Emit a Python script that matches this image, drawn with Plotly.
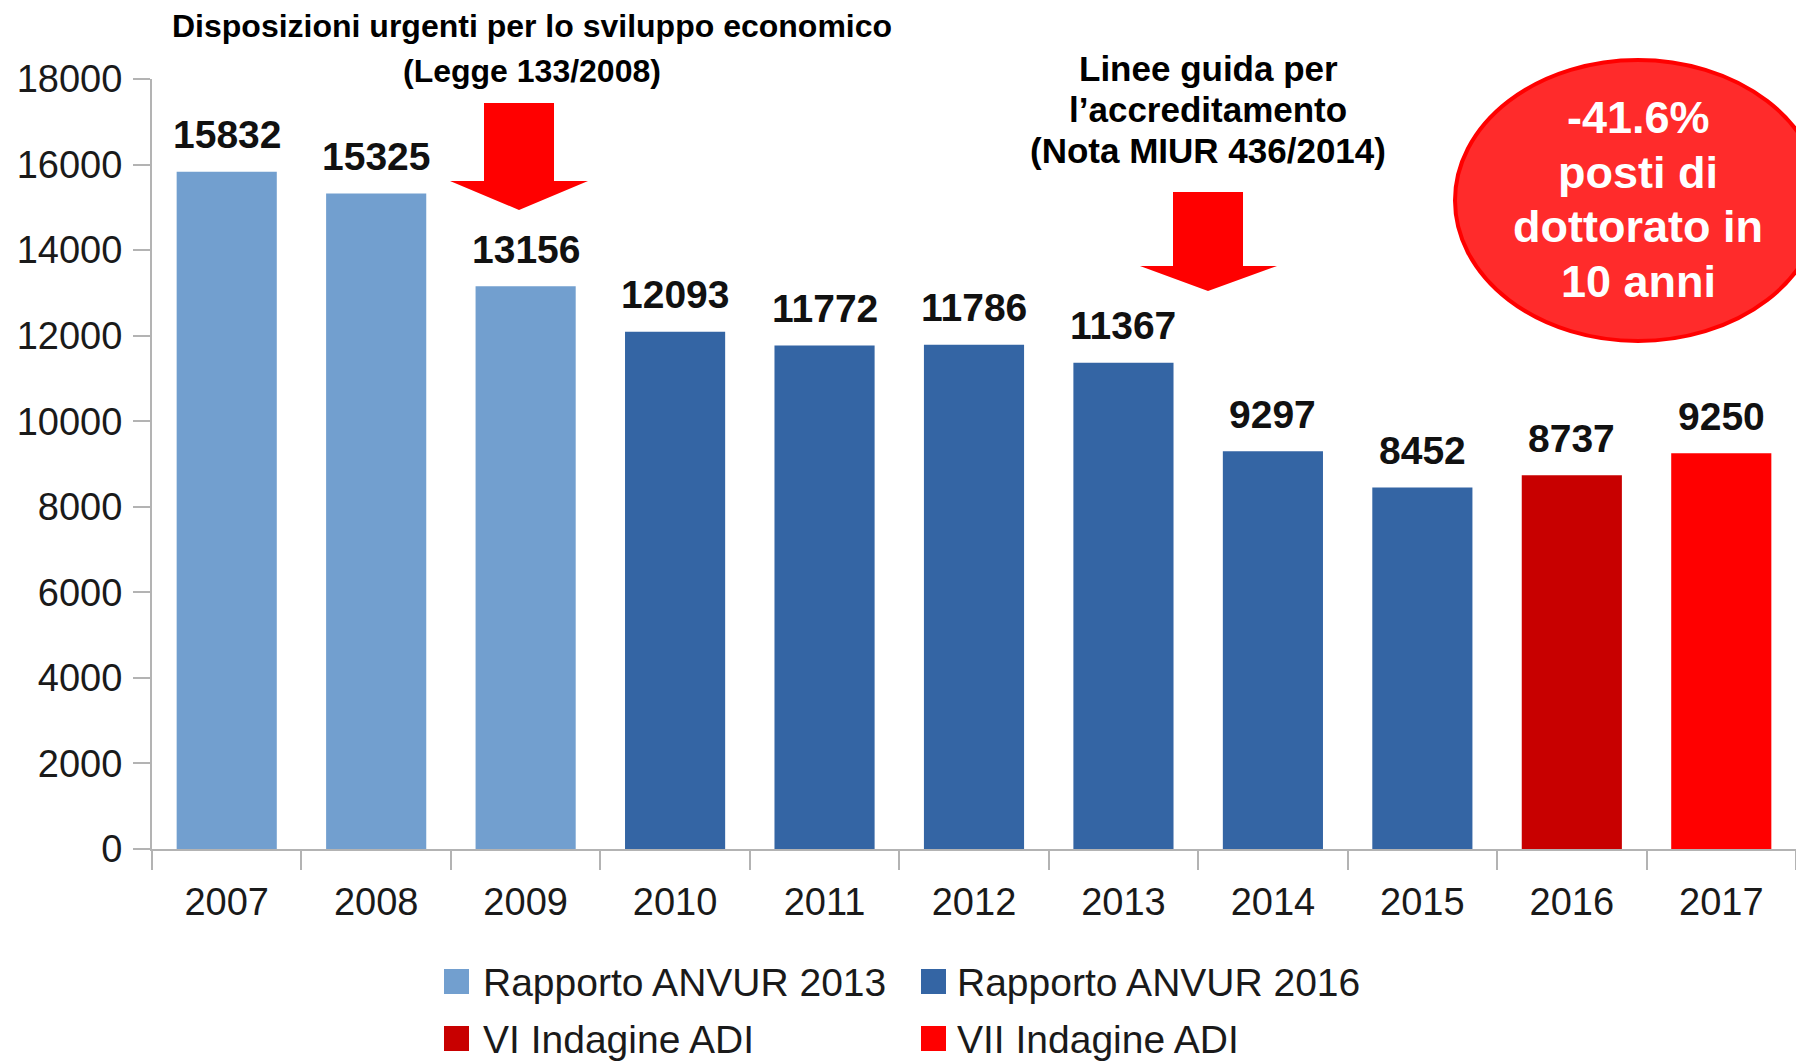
import plotly.graph_objects as go

# dati: posti di dottorato banditi per anno
anni = ["2007", "2008", "2009", "2010", "2011", "2012", "2013", "2014", "2015", "2016", "2017"]
posti = [15832, 15325, 13156, 12093, 11772, 11786, 11367, 9297, 8452, 8737, 9250]
fonte = (["Rapporto ANVUR 2013"] * 3 + ["Rapporto ANVUR 2016"] * 6
         + ["VI Indagine ADI", "VII Indagine ADI"])
serie = ["Rapporto ANVUR 2013", "Rapporto ANVUR 2016", "VI Indagine ADI", "VII Indagine ADI"]
colori = ["#729fcf", "#3465a4", "#c80000", "#ff0000"]
y_ticks = list(range(0, 18001, 2000))

W, H = 1796, 1063
L, T, R, B = 152, 79, 0, 214
pw, ph = W - L - R, H - T - B


def px(x):
    return (x - L) / pw


def py(y):
    return (H - B - y) / ph


FONT = "Liberation Sans, Arial, sans-serif"
GRIGIO = "#b3b3b3"

fig = go.Figure()
for s, c in zip(serie, colori):
    xs = [a for a, f in zip(anni, fonte) if f == s]
    ys = [v for v, f in zip(posti, fonte) if f == s]
    fig.add_trace(go.Bar(x=xs, y=ys, name=s, marker=dict(color=c, line=dict(width=0)),
                         showlegend=False))

ann = []
# etichette dei valori (x come indice di categoria)
for i, v in enumerate(posti):
    ann.append(dict(x=i, y=v, xref="x", yref="y", text="<b>%d</b>" % v, showarrow=False,
                    yanchor="middle", yshift=37, font=dict(family=FONT, size=39, color="#111")))

# testi in alto
for txt, y in [("Disposizioni urgenti per lo sviluppo economico", 26), ("(Legge 133/2008)", 71)]:
    ann.append(dict(x=px(532), y=py(y), xref="paper", yref="paper", text="<b>%s</b>" % txt,
                    showarrow=False, xanchor="center", yanchor="middle",
                    font=dict(family=FONT, size=32, color="#000")))
for txt, y in [("Linee guida per", 68), ("l\u2019accreditamento", 109), ("(Nota MIUR 436/2014)", 150)]:
    ann.append(dict(x=px(1208), y=py(y), xref="paper", yref="paper", text="<b>%s</b>" % txt,
                    showarrow=False, xanchor="center", yanchor="middle",
                    font=dict(family=FONT, size=35, color="#000")))
for txt, y in [("-41.6%", 117), ("posti di", 172), ("dottorato in", 226), ("10 anni", 281)]:
    ann.append(dict(x=px(1638), y=py(y), xref="paper", yref="paper", text="<b>%s</b>" % txt,
                    showarrow=False, xanchor="center", yanchor="middle",
                    font=dict(family=FONT, size=45, color="#fff")))

# legenda
leg = [(444, 481, 982), (921, 955, 982), (444, 481, 1039), (921, 955, 1039)]
shapes = []
for (sx, tx, cy), s, c in zip(leg, serie, colori):
    shapes.append(dict(type="rect", xref="paper", yref="paper", x0=px(sx), x1=px(sx + 25),
                       y0=py(cy + 12), y1=py(cy - 13), fillcolor=c, line=dict(width=0)))
    ann.append(dict(x=px(tx), y=py(cy), xref="paper", yref="paper", text=s, showarrow=False,
                    xanchor="left", yanchor="middle",
                    font=dict(family=FONT, size=39, color="#1a1a1a")))


def freccia(x0, x1, top, hy, hx0, hx1, tip):
    pts = [(x0, top), (x1, top), (x1, hy), (hx1, hy), ((x0 + x1) / 2, tip), (hx0, hy), (x0, hy)]
    return "M " + " L ".join("%.5f,%.5f" % (px(a), py(b)) for a, b in pts) + " Z"


for p in [freccia(484, 554, 103, 181, 450, 588, 210), freccia(1173, 1243, 192, 266, 1140, 1277, 291)]:
    shapes.append(dict(type="path", xref="paper", yref="paper", path=p,
                       fillcolor="#ff0000", line=dict(width=0)))

shapes.append(dict(type="circle", xref="paper", yref="paper", x0=px(1455), x1=px(1821),
                   y0=py(341), y1=py(60), fillcolor="#ff2b2b", line=dict(color="#ff0000", width=4)))

fig.update_layout(
    width=W, height=H, margin=dict(l=L, r=R, t=T, b=B),
    paper_bgcolor="white", plot_bgcolor="white",
    barmode="overlay", bargap=0.33,
    font=dict(family=FONT, size=38, color="#1a1a1a"),
    annotations=ann, shapes=shapes,
    xaxis=dict(type="category", categoryorder="array", categoryarray=anni,
               range=[-0.5, len(anni) - 0.5], fixedrange=True,
               showline=True, linecolor=GRIGIO, linewidth=2, ticks="outside", tickson="boundaries",
               ticklen=19, tickwidth=2, tickcolor=GRIGIO, showgrid=False, tickangle=0,
               ticklabelstandoff=18,
               tickfont=dict(family=FONT, size=38, color="#1a1a1a")),
    yaxis=dict(range=[0, 18000], tickvals=y_ticks, tickformat="d", showline=True, linecolor=GRIGIO,
               linewidth=2, ticks="outside", ticklen=17, tickwidth=2, tickcolor=GRIGIO,
               showgrid=False, zeroline=False, fixedrange=True, ticklabelstandoff=3,
               tickfont=dict(family=FONT, size=38, color="#1a1a1a")),
)

fig.write_html("out.html", config={"displayModeBar": False},
               post_script="document.body.style.margin='0';document.body.style.overflow='hidden';")
